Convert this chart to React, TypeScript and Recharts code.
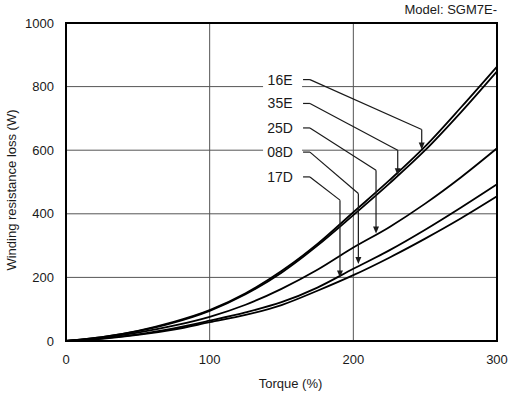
import React from 'react';
import {
  LineChart, Line, XAxis, YAxis, CartesianGrid, ReferenceLine, ReferenceDot, ReferenceArea,
} from 'recharts';

const torque = [0, 25, 50, 75, 100, 125, 150, 175, 200, 225, 250, 275, 300];
const loss16E = [0, 12, 32, 60, 97, 150, 220, 305, 405, 505, 612, 735, 863];
const loss35E = [0, 12, 31, 58, 95, 147, 215, 300, 396, 495, 600, 720, 848];
const loss25D = [0, 10, 26, 48, 76, 114, 164, 224, 294, 358, 432, 515, 606];
const loss08D = [0, 8, 21, 40, 64, 90, 122, 168, 227, 285, 350, 420, 493];
const loss17D = [0, 7, 19, 36, 59, 82, 113, 158, 207, 262, 322, 386, 455];

const xTicks = [0, 100, 200, 300];
const yTicks = [0, 200, 400, 600, 800, 1000];

// callout leaders, in data units (torque %, W)
const callouts = [
  { name: '16E', y: 822, kneeX: 247.6, kneeY: 665, tipY: 602 },
  { name: '35E', y: 747, kneeX: 230.9, kneeY: 600, tipY: 521 },
  { name: '25D', y: 670, kneeX: 215.8, kneeY: 537, tipY: 338 },
  { name: '08D', y: 594, kneeX: 203.5, kneeY: 464, tipY: 242 },
  { name: '17D', y: 516, kneeX: 190.7, kneeY: 443, tipY: 200 },
];
const labelX = 149;
const dashX0 = 165;
const dashX1 = 169.8;

const data = torque.map((t, i) => ({
  t,
  e16: loss16E[i],
  e35: loss35E[i],
  d25: loss25D[i],
  d08: loss08D[i],
  d17: loss17D[i],
}));

const FONT = '"Liberation Sans", Arial, sans-serif';
const INK = '#1a1a1a';

const Arrow = (p: any) => {
  const { x1, y1, x2, y2 } = p;
  return (
    <g>
      <line x1={x1} y1={y1} x2={x2} y2={y2 - 5} stroke={INK} strokeWidth={1.2} />
      <path d={`M${x2 - 3},${y2 - 7}L${x2 + 3},${y2 - 7}L${x2},${y2}Z`} fill={INK} />
    </g>
  );
};

const CalloutLabel = (name: string) => (p: any) => (
  <g>
    <rect x={p.cx - 17} y={p.cy - 9} width={39} height={18} fill="#fff" />
    <text x={p.cx} y={p.cy} dy="0.36em" textAnchor="middle" fontSize={14} fill={INK} fontFamily={FONT}>
      {name}
    </text>
  </g>
);

export default function App() {
  const seriesKeys = ['e16', 'e35', 'd25', 'd08', 'd17'];
  return (
    <div style={{ position: 'absolute', left: 0, top: 0, width: 512, height: 396, background: '#fff' }}>
      <div
        style={{
          position: 'absolute', right: 15, top: 2, fontFamily: FONT, fontSize: 13, color: INK,
        }}
      >
        Model: SGM7E-
      </div>
      <LineChart
        width={512}
        height={396}
        data={data}
        margin={{ top: 23, right: 15, left: 0, bottom: 0 }}
      >
        <CartesianGrid stroke="#555" strokeWidth={1} />
        <XAxis
          dataKey="t"
          type="number"
          domain={[0, 300]}
          ticks={xTicks}
          tickLine={false}
          axisLine={false}
          height={55}
          tickMargin={8}
          tick={{ fontSize: 13, fill: INK, fontFamily: FONT }}
          label={{
            content: (p: any) => {
              const vb = p.viewBox;
              return (
                <text x={vb.x + vb.width / 2 + 9} y={vb.y + 47} textAnchor="middle" fontSize={13} fill={INK} fontFamily={FONT}>
                  Torque (%)
                </text>
              );
            },
          }}
        />
        <YAxis
          type="number"
          domain={[0, 1000]}
          ticks={yTicks}
          tickLine={false}
          axisLine={false}
          width={66}
          tickMargin={6}
          tick={{ fontSize: 13, fill: INK, fontFamily: FONT }}
          label={{
            content: (p: any) => {
              const vb = p.viewBox;
              const cx = 11;
              const cy = vb.y + vb.height / 2 + 8;
              return (
                <text
                  x={cx}
                  y={cy}
                  transform={`rotate(-90, ${cx}, ${cy})`}
                  textAnchor="middle"
                  dominantBaseline="central"
                  fontSize={13}
                  fill={INK}
                  fontFamily={FONT}
                >
                  Winding resistance loss (W)
                </text>
              );
            },
          }}
        />
        {seriesKeys.map((k) => (
          <Line
            key={k}
            dataKey={k}
            type="monotone"
            stroke="#000"
            strokeWidth={1.8}
            dot={false}
            isAnimationActive={false}
          />
        ))}
        {callouts.map((c) => (
          <ReferenceDot
            key={`lab-${c.name}`}
            x={labelX}
            y={c.y}
            shape={CalloutLabel(c.name)}
          />
        ))}
        {callouts.map((c) => (
          <ReferenceLine
            key={`d-${c.name}`}
            segment={[{ x: dashX0, y: c.y }, { x: dashX1, y: c.y }]}
            stroke={INK}
            strokeWidth={1.2}
          />
        ))}
        {callouts.map((c) => (
          <ReferenceLine
            key={`g-${c.name}`}
            segment={[{ x: dashX1, y: c.y }, { x: c.kneeX, y: c.kneeY }]}
            stroke={INK}
            strokeWidth={1.2}
          />
        ))}
        {callouts.map((c) => (
          <ReferenceLine
            key={`a-${c.name}`}
            segment={[{ x: c.kneeX, y: c.kneeY }, { x: c.kneeX, y: c.tipY }]}
            shape={Arrow}
          />
        ))}
        <ReferenceArea x1={0} x2={300} y1={0} y2={1000} fill="none" stroke="#000" strokeWidth={2} />
      </LineChart>
    </div>
  );
}
